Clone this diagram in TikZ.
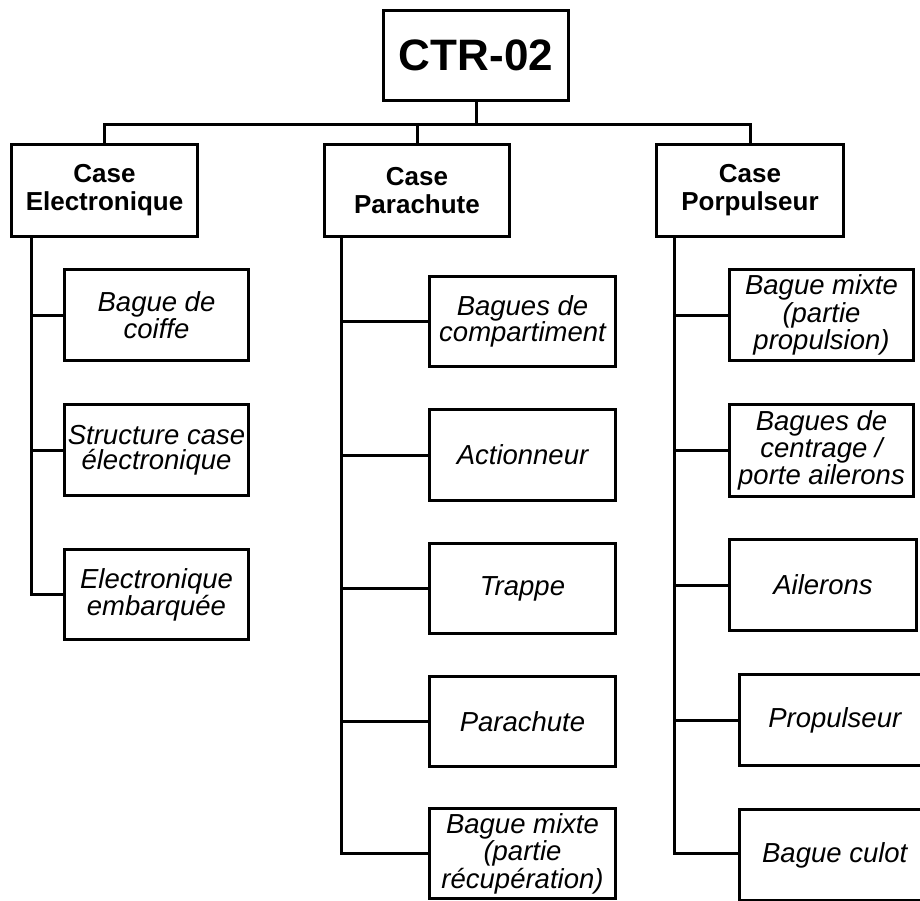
\documentclass[tikz,border=0pt]{standalone}
\usepackage{fontspec}
\setmainfont{Liberation Sans}
\usetikzlibrary{calc}
\begin{document}
\begin{tikzpicture}[x=1pt,y=-1pt,line width=3pt,
  rootbox/.style={draw,rectangle,inner sep=0pt,align=center,minimum width=185pt,minimum height=90pt,font=\fontsize{44}{48}\selectfont\bfseries},
  casebox/.style={draw,rectangle,inner sep=0pt,align=center,minimum height=92pt,font=\fontsize{26}{28}\selectfont\bfseries},
  itembox/.style={draw,rectangle,inner sep=0pt,align=center,font=\fontsize{27.5}{25}\selectfont\itshape},
  loose/.style={font=\fontsize{27.5}{27.5}\selectfont\itshape}]
\useasboundingbox (0,0) rectangle (920,900);
% root
\node[rootbox] (root) at (476,55.5) {CTR-02};
% cases
\node[casebox,minimum width=186pt] (elec) at (104.5,190.5) {Case\\Electronique};
\node[casebox,minimum width=185pt] (para) at (417,190.5) {Case\\Parachute};
\node[casebox,minimum width=187pt] (porp) at (750,190.5) {Case\\Porpulseur};
% electronique children
\node[itembox,minimum width=184pt,minimum height=91pt] (c1) at (156.5,315) {Bague de\\coiffe};
\node[itembox,minimum width=184pt,minimum height=91pt] (c2) at (156.5,450) {Structure case\\électronique};
\node[itembox,minimum width=184pt,minimum height=90pt] (c3) at (156.5,594.5) {Electronique\\embarquée};
% parachute children
\node[itembox,minimum width=186pt,minimum height=90pt] (p1) at (522.5,321.5) {Bagues de\\compartiment};
\node[itembox,minimum width=186pt,minimum height=91pt] (p2) at (522.5,455) {Actionneur};
\node[itembox,minimum width=186pt,minimum height=90pt] (p3) at (522.5,588.5) {Trappe};
\node[itembox,minimum width=186pt,minimum height=90pt] (p4) at (522.5,721.5) {Parachute};
\node[itembox,loose,minimum width=186pt,minimum height=90pt] (p5) at (522.5,853.5) {Bague mixte\\(partie\\récupération)};
% porpulseur children
\node[itembox,loose,minimum width=184pt,minimum height=91pt] (q1) at (821.5,315) {Bague mixte\\(partie\\propulsion)};
\node[itembox,minimum width=184pt,minimum height=92pt] (q2) at (821.5,450.5) {Bagues de\\centrage /\\porte ailerons};
\node[itembox,minimum width=187pt,minimum height=91pt] (q3) at (823,585) {Ailerons};
\node[itembox,minimum width=190.5pt,minimum height=91pt] (q4) at (834.75,720) {Propulseur};
\node[itembox,minimum width=190.5pt,minimum height=91pt] (q5) at (834.75,855) {Bague culot};
% top connectors
\coordinate (bus) at (476,124);
\draw (root.south) -- (bus);
\draw (elec.north) |- (bus) -| (porp.north);
\draw (para.north) -- (para.north |- bus);
% spines
\coordinate (es) at ($(elec.south west)+(21.5,0)$);
\coordinate (ps) at ($(para.south west)+(18,0)$);
\coordinate (qs) at ($(porp.south west)+(19.5,0)$);
\foreach \n in {c1,c2,c3} \draw (es) |- (\n.west);
\foreach \n in {p1,p2,p3,p4,p5} \draw (ps) |- (\n.west);
\foreach \n in {q1,q2,q3,q4} \draw (qs) |- (\n.west);
\draw (qs) |- ($(q5.west)+(0,-2)$);
\end{tikzpicture}
\end{document}
